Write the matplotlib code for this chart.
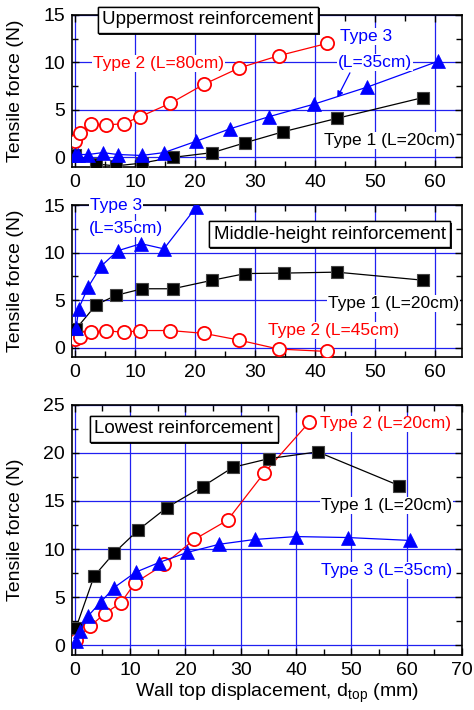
import matplotlib
matplotlib.use("Agg")
import matplotlib.pyplot as plt
import matplotlib.patheffects as pe
from matplotlib.ticker import MultipleLocator

plt.rcParams["font.family"] = ["Liberation Sans", "DejaVu Sans"]
plt.rcParams["mathtext.fontset"] = "custom"
plt.rcParams["mathtext.rm"] = "Liberation Sans"

# uppermost reinforcement
up_t1_x = [0.0, 3.5, 6.8, 11.2, 16.3, 22.9, 28.4, 34.7, 43.6, 58.0]
up_t1_y = [0.3, -0.7, -0.9, -0.6, 0.0, 0.5, 1.55, 2.7, 4.1, 6.3]
up_t2_x = [0.0, 0.8, 2.7, 5.1, 8.1, 10.9, 15.9, 21.5, 27.3, 33.9, 42.0]
up_t2_y = [1.7, 2.6, 3.5, 3.4, 3.55, 4.3, 5.7, 7.7, 9.4, 10.7, 12.0]
up_t3_x = [0.0, 0.5, 2.2, 4.6, 7.1, 11.1, 14.8, 20.2, 25.8, 32.4, 39.8, 48.7, 60.4]
up_t3_y = [0.3, 0.3, 0.3, 0.5, 0.3, 0.2, 0.5, 1.7, 3.0, 4.3, 5.6, 7.4, 10.1]

# middle-height reinforcement
mid_t1_x = [0.2, 3.5, 6.8, 11.2, 16.3, 22.9, 28.4, 34.8, 43.6, 58.0]
mid_t1_y = [2.0, 4.5, 5.5, 6.2, 6.2, 7.1, 7.8, 7.85, 7.95, 7.1]
mid_t2_x = [0.0, 0.8, 2.7, 5.1, 8.1, 10.9, 15.9, 21.5, 27.3, 33.9, 42.0]
mid_t2_y = [0.9, 1.15, 1.6, 1.8, 1.6, 1.8, 1.8, 1.5, 0.8, -0.15, -0.4]
mid_t3_x = [0.2, 0.6, 2.2, 4.3, 7.1, 11.0, 14.8, 20.2]
mid_t3_y = [2.1, 4.1, 6.4, 8.55, 10.2, 10.95, 10.4, 14.8]

# lowest reinforcement
low_t1_x = [0.2, 3.5, 7.1, 11.5, 16.6, 23.1, 28.6, 35.1, 43.9, 58.6]
low_t1_y = [1.8, 7.2, 9.6, 12.0, 14.3, 16.5, 18.5, 19.4, 20.1, 16.6]
low_t2_x = [0.2, 2.8, 5.4, 8.3, 10.9, 16.1, 21.6, 27.6, 34.2, 42.4]
low_t2_y = [0.6, 2.0, 3.3, 4.4, 6.5, 8.4, 11.0, 13.0, 17.9, 23.2]
low_t3_x = [0.2, 0.9, 2.4, 4.7, 7.1, 11.0, 15.2, 20.3, 26.1, 32.5, 40.0, 49.3, 60.6]
low_t3_y = [0.45, 1.5, 3.05, 4.5, 6.0, 7.6, 8.6, 9.65, 10.5, 11.0, 11.3, 11.2, 10.9]

fig = plt.figure(figsize=(4.74, 7.1), dpi=100)
ax1 = fig.add_axes([0.152, 0.765, 0.823, 0.214])
ax2 = fig.add_axes([0.152, 0.497, 0.823, 0.214])
ax3 = fig.add_axes([0.152, 0.0775, 0.823, 0.3525])


def draw(ax, x1, y1, x2, y2, x3, y3):
    ax.plot(x2, y2, color="red", lw=0.9, marker="o", ms=9.5, mfc="white",
            mec="red", mew=1.3, zorder=3)
    ax.plot(x1, y1, color="black", lw=0.9, marker="s", ms=8.5, mfc="black",
            mec="#444444", mew=0.8, zorder=4)
    ax.plot(x3, y3, color="blue", lw=0.9, marker="^", ms=10, mfc="blue",
            mec="blue", mew=0.5, zorder=5)


def style(ax, xmax, ymax):
    ax.set_xlim(-0.5, xmax)
    ax.set_ylim(-1, ymax)
    ax.xaxis.set_major_locator(MultipleLocator(10))
    ax.xaxis.set_minor_locator(MultipleLocator(5))
    ax.yaxis.set_major_locator(MultipleLocator(5))
    ax.yaxis.set_minor_locator(MultipleLocator(2.5))
    ax.grid(True, which="major", color="#2020f0", lw=0.9)
    ax.set_axisbelow(True)
    ax.tick_params(which="both", direction="in", top=True, right=True,
                   labelsize=14, width=1, pad=5)
    ax.tick_params(which="major", length=5)
    ax.tick_params(which="minor", length=4)
    for s in ax.spines.values():
        s.set_linewidth(1.2)
    ax.set_ylabel("Tensile force (N)", fontsize=14)
    ax.yaxis.set_label_coords(-0.123, 0.5)


def label(ax, x, y, s, color, **kw):
    ax.text(x, y, s, color=color, fontsize=12.5, va="center", ha="left",
            zorder=6, clip_on=False,
            bbox=dict(facecolor="white", edgecolor="none", pad=0.6), **kw)


def title_box(ax, x, y, s):
    t = ax.text(x, y, s, transform=ax.transAxes, fontsize=13.5, ha="center",
                va="center", zorder=7, clip_on=False,
                bbox=dict(boxstyle="square,pad=0.25", facecolor="white",
                          edgecolor="black", lw=1))
    t.get_bbox_patch().set_path_effects(
        [pe.withSimplePatchShadow(offset=(1.2, -1.2), shadow_rgbFace="black",
                                  alpha=0.9), pe.Normal()])


# top panel
draw(ax1, up_t1_x, up_t1_y, up_t2_x, up_t2_y, up_t3_x, up_t3_y)
style(ax1, 64.5, 15)
title_box(ax1, 0.348, 0.967, "Uppermost reinforcement")
label(ax1, 3.0, 9.9, "Type 2 (L=80cm)", "red")
label(ax1, 44.2, 12.7, "Type 3", "blue")
label(ax1, 43.8, 10.0, "(L=35cm)", "blue")
label(ax1, 41.5, 1.8, "Type 1 (L=20cm)", "black")
ax1.annotate("", xy=(43.7, 6.3), xytext=(45.8, 8.9),
             arrowprops=dict(arrowstyle="-|>", color="blue", lw=0.9,
                             mutation_scale=9, shrinkA=0, shrinkB=0))

# middle panel
draw(ax2, mid_t1_x, mid_t1_y, mid_t2_x, mid_t2_y, mid_t3_x, mid_t3_y)
style(ax2, 64.5, 15)
title_box(ax2, 0.66, 0.81, "Middle-height reinforcement")
label(ax2, 2.5, 15.0, "Type 3", "blue")
label(ax2, 2.3, 12.5, "(L=35cm)", "blue")
label(ax2, 42.2, 4.65, "Type 1 (L=20cm)", "black")
label(ax2, 32.2, 1.8, "Type 2 (L=45cm)", "red")

# bottom panel
draw(ax3, low_t1_x, low_t1_y, low_t2_x, low_t2_y, low_t3_x, low_t3_y)
style(ax3, 70, 25)
title_box(ax3, 0.286, 0.904, "Lowest reinforcement")
label(ax3, 44.3, 23.0, "Type 2 (L=20cm)", "red")
label(ax3, 44.5, 14.5, "Type 1 (L=20cm)", "black")
label(ax3, 44.5, 7.75, "Type 3 (L=35cm)", "blue")
ax3.set_xlabel(r"Wall top displacement, d$_{\mathrm{top}}$ (mm)", fontsize=14)
ax3.xaxis.set_label_coords(0.526, -0.105)

fig.savefig("out.png", dpi=100)
